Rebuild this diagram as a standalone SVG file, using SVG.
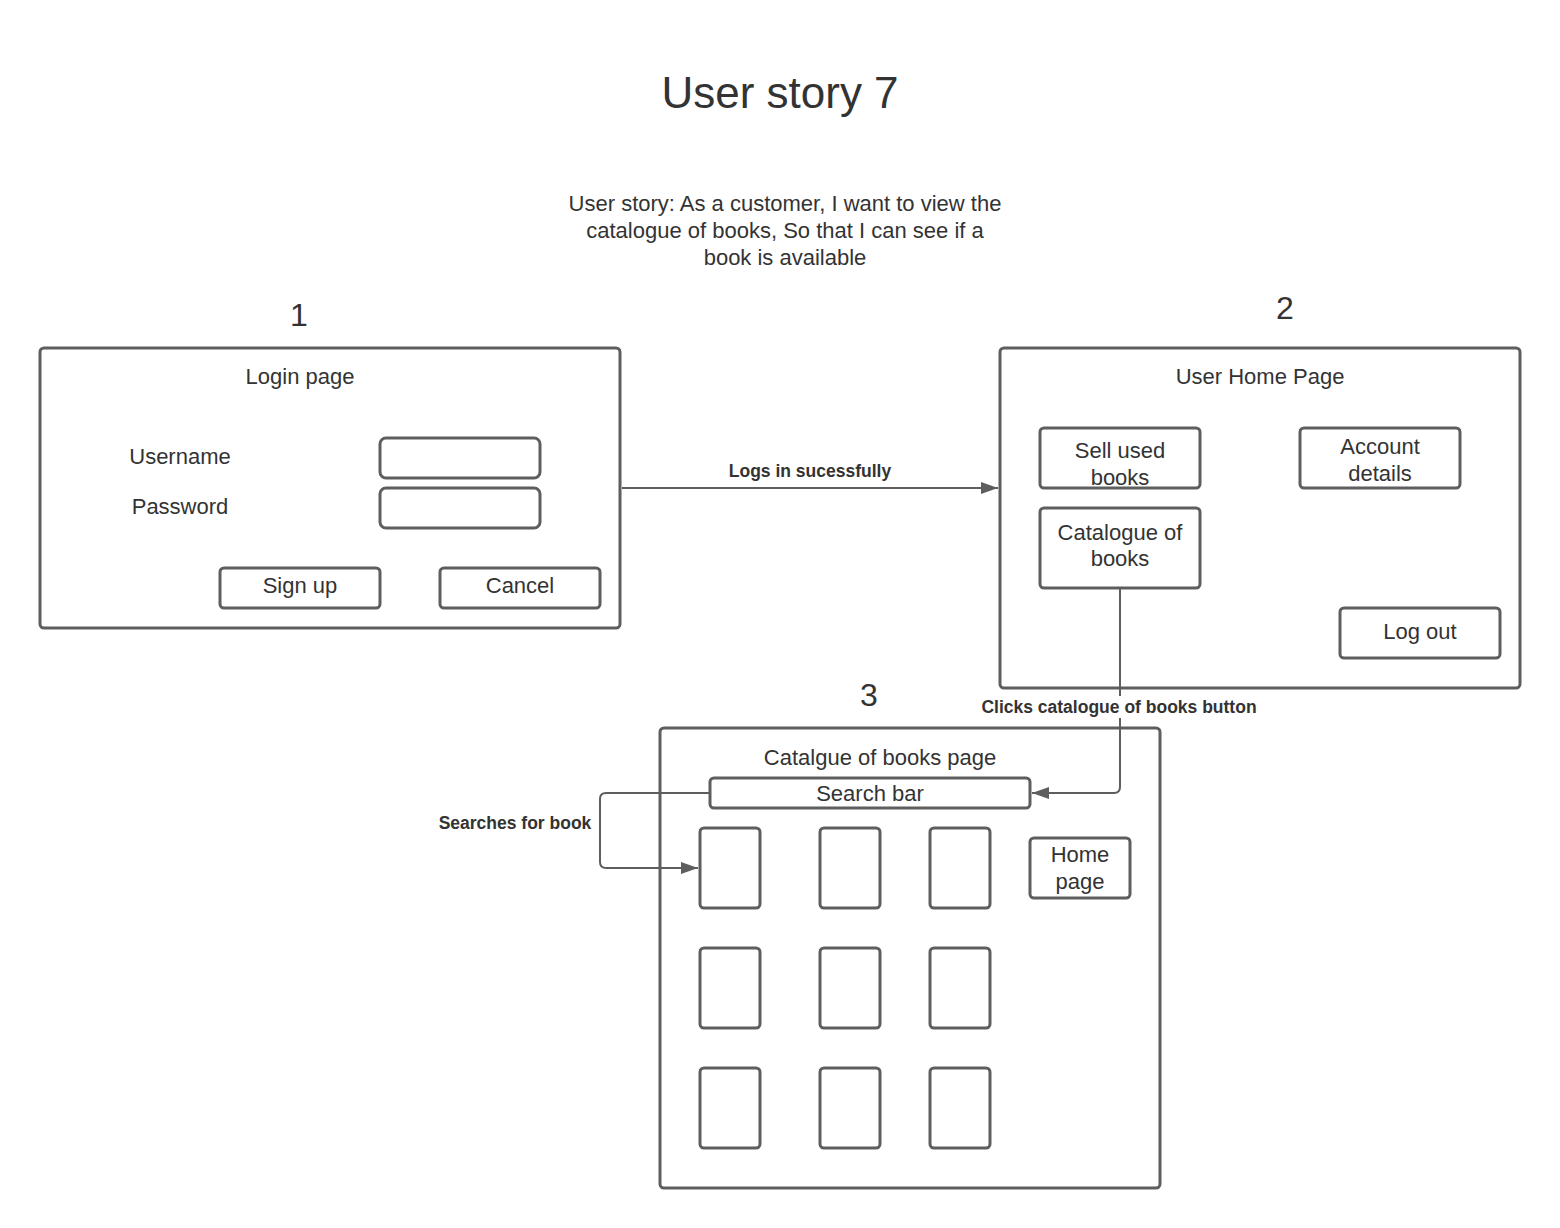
<svg xmlns="http://www.w3.org/2000/svg" width="1560" height="1228" viewBox="0 0 1560 1228">
<style>
text{font-family:"Liberation Sans",Arial,sans-serif;fill:#333333;text-anchor:middle;dominant-baseline:central}
.box{fill:#ffffff;stroke:#5e5e5e;stroke-width:3}
.t{font-size:22px}
.num{font-size:32px}
.lbl{font-size:17.5px;font-weight:bold}
.conn{fill:none;stroke:#5e5e5e;stroke-width:2}
</style>
<defs>
<marker id="arr" markerWidth="17" markerHeight="12" refX="17" refY="6" orient="auto" markerUnits="userSpaceOnUse">
<path d="M0,0 L17,6 L0,12 Z" fill="#5e5e5e"/>
</marker>
</defs>
<rect width="1560" height="1228" fill="#ffffff"/>
<g id="title">
<text x="780" y="92" style="font-size:44px">User story 7</text>
<text x="785" y="203" class="t">User story: As a customer, I want to view the</text>
<text x="785" y="230" class="t">catalogue of books, So that I can see if a</text>
<text x="785" y="257" class="t">book is available</text>
<text x="299" y="315" class="num">1</text>
<text x="1285" y="308" class="num">2</text>
<text x="869" y="695" class="num">3</text>
</g>
<g id="login">
<rect class="box" x="40" y="348" width="580" height="280" rx="4"/>
<text x="300" y="376" class="t">Login page</text>
<text x="180" y="456" class="t">Username</text>
<text x="180" y="506" class="t">Password</text>
<rect class="box" x="380" y="438" width="160" height="40" rx="6"/>
<rect class="box" x="380" y="488" width="160" height="40" rx="6"/>
<rect class="box" x="220" y="568" width="160" height="40" rx="4"/>
<text x="300" y="585" class="t">Sign up</text>
<rect class="box" x="440" y="568" width="160" height="40" rx="4"/>
<text x="520" y="585" class="t">Cancel</text>
</g>
<g id="home">
<rect class="box" x="1000" y="348" width="520" height="340" rx="4"/>
<text x="1260" y="376" class="t">User Home Page</text>
<rect class="box" x="1040" y="428" width="160" height="60" rx="4"/>
<text x="1120" y="450" class="t">Sell used</text>
<text x="1120" y="477" class="t">books</text>
<rect class="box" x="1300" y="428" width="160" height="60" rx="4"/>
<text x="1380" y="446" class="t">Account</text>
<text x="1380" y="473" class="t">details</text>
<rect class="box" x="1040" y="508" width="160" height="80" rx="4"/>
<text x="1120" y="532" class="t">Catalogue of</text>
<text x="1120" y="558" class="t">books</text>
<rect class="box" x="1340" y="608" width="160" height="50" rx="4"/>
<text x="1420" y="631" class="t">Log out</text>
</g>
<g id="catalogue">
<rect class="box" x="660" y="728" width="500" height="460" rx="4"/>
<text x="880" y="757" class="t">Catalgue of books page</text>
<rect class="box" x="710" y="778" width="320" height="30" rx="4"/>
<text x="870" y="793" class="t">Search bar</text>
<rect class="box" x="700" y="828" width="60" height="80" rx="4"/>
<rect class="box" x="820" y="828" width="60" height="80" rx="4"/>
<rect class="box" x="930" y="828" width="60" height="80" rx="4"/>
<rect class="box" x="700" y="948" width="60" height="80" rx="4"/>
<rect class="box" x="820" y="948" width="60" height="80" rx="4"/>
<rect class="box" x="930" y="948" width="60" height="80" rx="4"/>
<rect class="box" x="700" y="1068" width="60" height="80" rx="4"/>
<rect class="box" x="820" y="1068" width="60" height="80" rx="4"/>
<rect class="box" x="930" y="1068" width="60" height="80" rx="4"/>
<rect class="box" x="1030" y="838" width="100" height="60" rx="4"/>
<text x="1080" y="854" class="t">Home</text>
<text x="1080" y="881" class="t">page</text>
</g>
<g id="connectors">
<path class="conn" d="M622,488 L998,488" marker-end="url(#arr)"/>
<rect x="722" y="460" width="176" height="22" fill="#ffffff"/>
<text x="810" y="471" class="lbl">Logs in sucessfully</text>
<path class="conn" d="M1120,589 L1120,787 Q1120,793 1114,793 L1032,793" marker-end="url(#arr)"/>
<rect x="976" y="696" width="288" height="22" fill="#ffffff"/>
<text x="1119" y="707" class="lbl">Clicks catalogue of books button</text>
<path class="conn" d="M709,793 L606,793 Q600,793 600,799 L600,862 Q600,868 606,868 L698,868" marker-end="url(#arr)"/>
<text x="515" y="823" class="lbl">Searches for book</text>
</g>
</svg>
